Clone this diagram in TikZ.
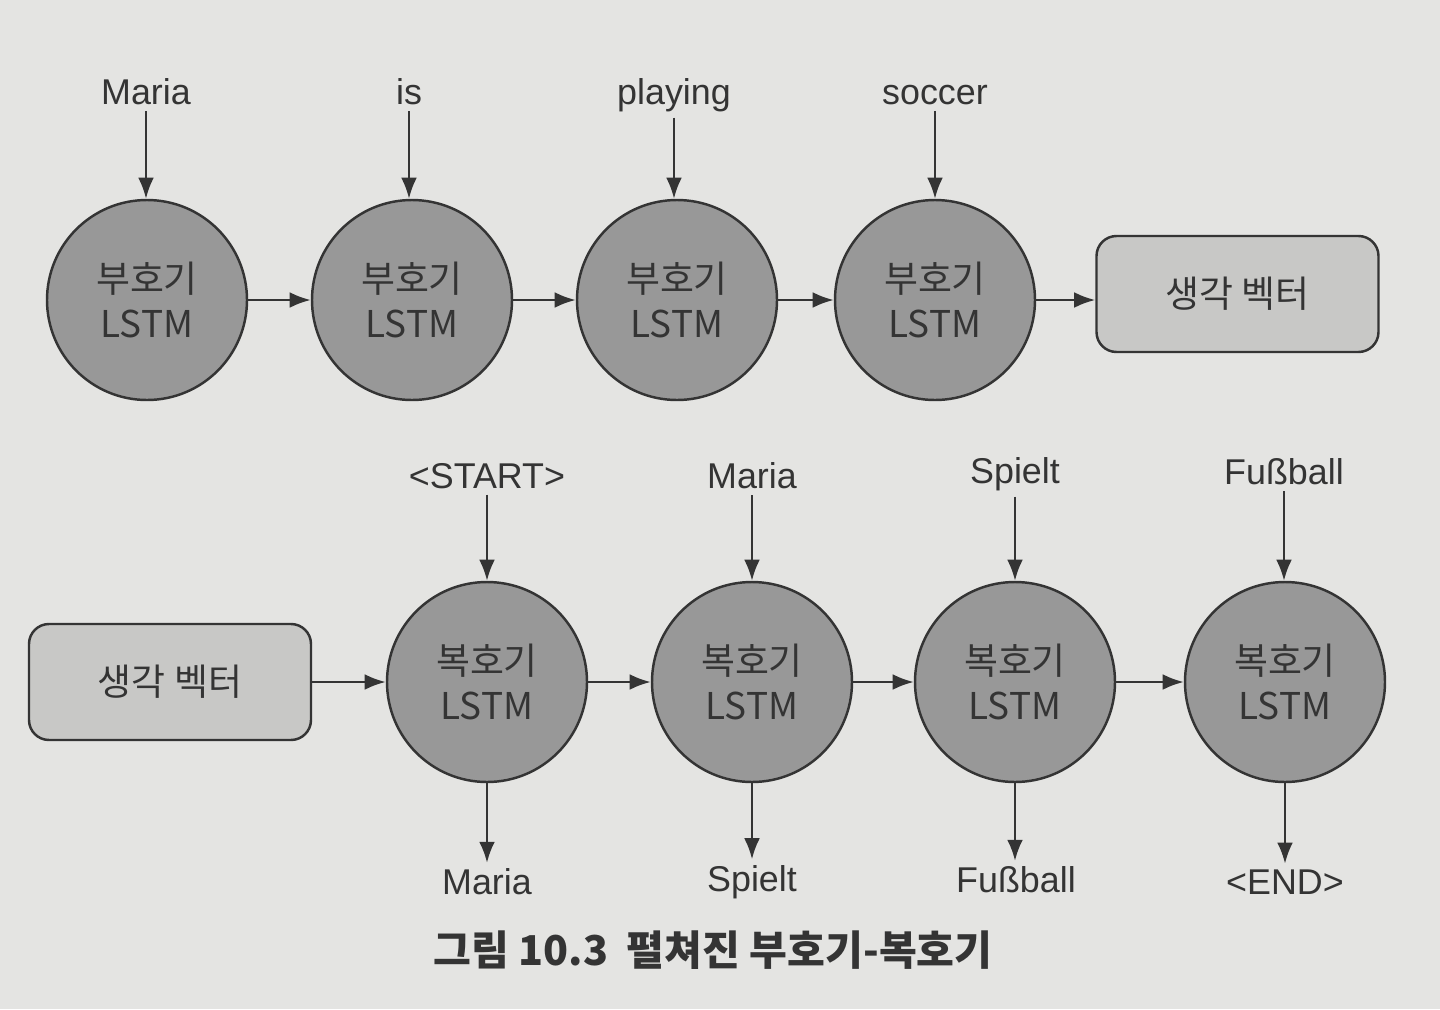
\documentclass[tikz,border=0pt]{standalone}
\usepackage{fontspec}
\setmainfont{Liberation Sans}
\newfontfamily\kr{Noto Sans CJK KR}
\usetikzlibrary{arrows.meta}
\definecolor{paper}{RGB}{228,228,226}
\definecolor{ink}{RGB}{52,52,52}
\definecolor{cellgray}{RGB}{152,152,152}
\definecolor{boxgray}{RGB}{200,200,198}

\begin{document}
\begin{tikzpicture}[>={Latex[length=6pt,width=4.5pt]},
	lstm/.style={circle,draw=ink,fill=cellgray,line width=0.7pt,minimum size=2cm,inner sep=0pt,
		align=center,text=ink,font=\kr\fontsize{10.5}{12.9}\selectfont},
	vecbox/.style={rectangle,rounded corners=0.2cm,draw=ink,fill=boxgray,line width=0.7pt,
		minimum width=2.82cm,minimum height=1.16cm,text=ink,font=\kr\fontsize{10.5}{13}\selectfont},
	word/.style={text=ink,inner sep=1.5pt,font=\fontsize{10.2}{12}\selectfont},
	link/.style={->,draw=ink,line width=0.7pt}]
	\fill[paper] (0,0) rectangle (14.4,10.09);
	\useasboundingbox (0,0) rectangle (14.4,10.09);
	
	% encoder
	\node[lstm] (e1) at (1.47,7.09) {부호기\\LSTM};
	\node[lstm] (e2) at (4.12,7.09) {부호기\\LSTM};
	\node[lstm] (e3) at (6.77,7.09) {부호기\\LSTM};
	\node[lstm] (e4) at (9.35,7.09) {부호기\\LSTM};
	\node[vecbox] (tv1) at (12.375,7.15) {생각 벡터};
	
	\node[word] (x1) at (1.46,9.17) {Maria};
	\node[word] (x2) at (4.09,9.17) {is};
	\node[word] (x3) at (6.74,9.14) {playing};
	\node[word] (x4) at (9.35,9.14) {soccer};
	
	\draw[link] (x1.south) -- (x1.south |- e1.north);
	\draw[link] (x2.south) -- (x2.south |- e2.north);
	\draw[link] (x3.south) -- (x3.south |- e3.north);
	\draw[link] (x4.south) -- (x4.south |- e4.north);
	\draw[link] (e1) -- (e2);
	\draw[link] (e2) -- (e3);
	\draw[link] (e3) -- (e4);
	\draw[link] (e4.east) -- (tv1.west |- e4.east);
	
	% decoder
	\node[vecbox] (tv2) at (1.70,3.27) {생각 벡터};
	\node[lstm] (d1) at (4.87,3.27) {복호기\\LSTM};
	\node[lstm] (d2) at (7.52,3.27) {복호기\\LSTM};
	\node[lstm] (d3) at (10.15,3.27) {복호기\\LSTM};
	\node[lstm] (d4) at (12.85,3.27) {복호기\\LSTM};
	
	\node[word] (y1) at (4.87,5.33) {<START>};
	\node[word] (y2) at (7.52,5.33) {Maria};
	\node[word] (y3) at (10.15,5.35) {Spielt};
	\node[word] (y4) at (12.84,5.37) {Fußball};
	
	\node[word] (z1) at (4.87,1.27) {Maria};
	\node[word] (z2) at (7.52,1.27) {Spielt};
	\node[word] (z3) at (10.16,1.29) {Fußball};
	\node[word] (z4) at (12.85,1.27) {<END>};
	
	\draw[link] (y1.south) -- (y1.south |- d1.north);
	\draw[link] (y2.south) -- (y2.south |- d2.north);
	\draw[link] (y3.south) -- (y3.south |- d3.north);
	\draw[link] (y4.south) -- (y4.south |- d4.north);
	\draw[link] (d1.south) -- (d1.south |- z1.north);
	\draw[link] (d2.south) -- (d2.south |- z2.north);
	\draw[link] (d3.south) -- (d3.south |- z3.north);
	\draw[link] (d4.south) -- (d4.south |- z4.north);
	\draw[link] (tv2.east) -- (d1.west);
	\draw[link] (d1) -- (d2);
	\draw[link] (d2) -- (d3);
	\draw[link] (d3) -- (d4);
	
	\node[text=ink,font=\kr\bfseries\fontsize{11.7}{14}\selectfont] (cap) at (7.13,0.59) {그림 10.3\ \ 펼쳐진 부호기-복호기};
\end{tikzpicture}
\end{document}
